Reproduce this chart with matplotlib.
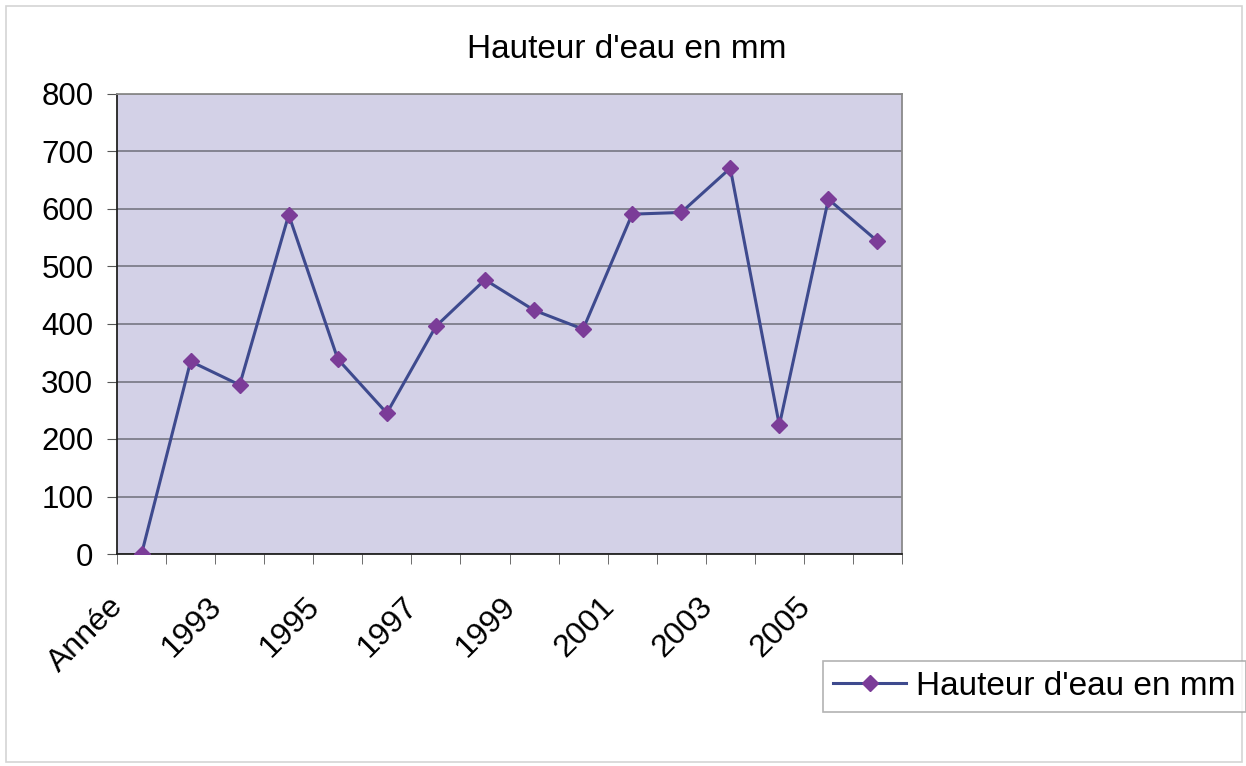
import matplotlib
matplotlib.use("Agg")
import matplotlib.pyplot as plt
from matplotlib.patches import Rectangle
import matplotlib.transforms as mtransforms
import numpy as np

categories = ["Année", "1992", "1993", "1994", "1995", "1996", "1997", "1998",
              "1999", "2000", "2001", "2002", "2003", "2004", "2005", "2006"]
values = [0, 335, 294, 590, 339, 245, 396, 477, 424, 391, 591, 594, 671, 224, 617, 544]
yticks = [0, 100, 200, 300, 400, 500, 600, 700, 800]
title = "Hauteur d'eau en mm"
series_name = "Hauteur d'eau en mm"

plt.rcParams['font.family'] = ['Liberation Sans', 'DejaVu Sans']

fig = plt.figure(figsize=(12.46, 7.66), dpi=100)
fig.patch.set_facecolor('white')
fig.patches.append(Rectangle((6/1246, 4/766), 1236/1246, 756/766, transform=fig.transFigure,
                             fill=False, edgecolor='#D4D4D4', linewidth=1.2))

ax = fig.add_axes([117/1246, 1 - 554/766, 785/1246, 460/766])
ax.set_facecolor('#D3D1E7')

x = np.arange(len(categories))
ax.plot(x, values, color='#3E4A8E', linewidth=2.2, marker='D', markersize=8,
        markerfacecolor='#7B3C98', markeredgecolor='#7B3C98', label=series_name, zorder=3)

ax.set_xlim(-0.5, len(categories) - 0.5)
ax.set_ylim(0, 800)
ax.set_yticks(yticks)
ax.set_yticklabels([str(v) for v in yticks])
ax.yaxis.grid(True, color='#6E6E7A', linewidth=1.1)
ax.set_axisbelow(True)

ax.set_xticks(x[::2])
ax.set_xticklabels(categories[::2], rotation=45, ha='right', rotation_mode='anchor')
ax.set_xticks(np.arange(-0.5, len(categories)), minor=True)
ax.tick_params(axis='x', which='major', length=0, pad=27, labelsize=23)
ax.tick_params(axis='x', which='minor', length=7, color='#555555', direction='out')
ax.tick_params(axis='y', length=7, color='#555555', labelsize=22.5, pad=10)

offset = mtransforms.ScaledTranslation(-33/100, 0, fig.dpi_scale_trans)
for lab in ax.get_xticklabels():
    lab.set_transform(lab.get_transform() + offset)

for s in ['left', 'bottom']:
    ax.spines[s].set_color('#222222')
    ax.spines[s].set_linewidth(1.3)
for s in ['top', 'right']:
    ax.spines[s].set_color('#8A8A8A')
    ax.spines[s].set_linewidth(1.3)

fig.text(0.503, 1 - 50/766, title, ha='center', va='center', fontsize=24)

leg = fig.legend(loc='lower left', bbox_to_anchor=(823/1246, 1 - 712/766), fontsize=24,
                 frameon=True, fancybox=False, edgecolor='#A0A0A0', handlelength=2.2,
                 handletextpad=0.3, borderpad=0.3, borderaxespad=0)
leg.get_frame().set_linewidth(1.2)

fig.savefig('out.png', dpi=100)
